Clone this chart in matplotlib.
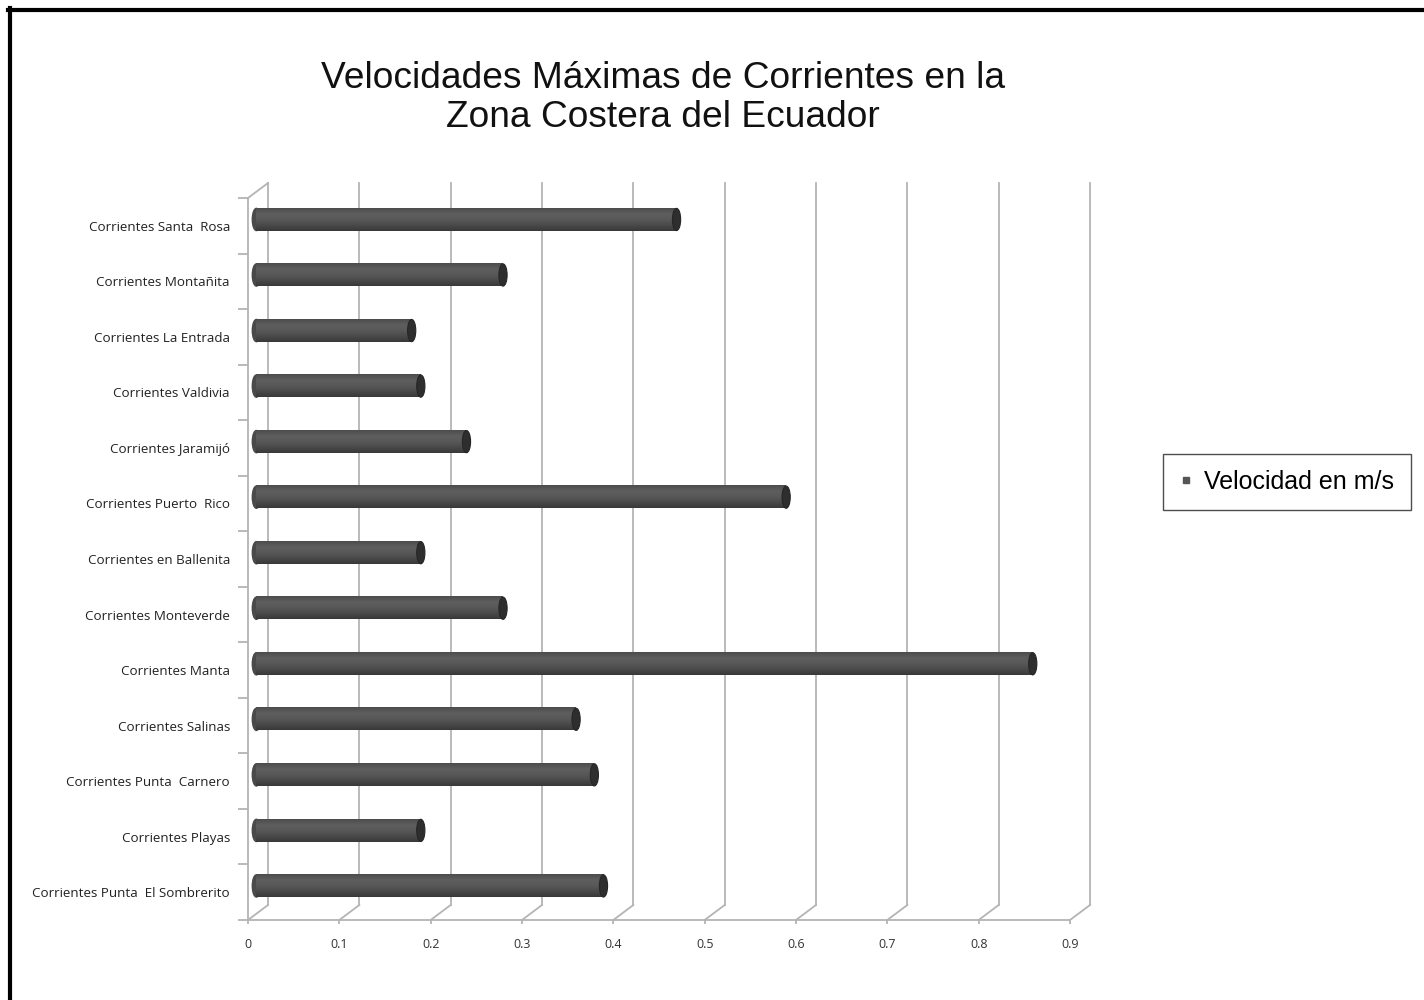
#------------------------------#
# IMPORT LIBRARIES
#------------------------------#

import numpy as np
import matplotlib
matplotlib.use('Agg')
import matplotlib.pyplot as plt
from matplotlib.patches import Ellipse
from matplotlib.lines import Line2D
from matplotlib.colors import LinearSegmentedColormap

#------------------------------#
# DATA
#------------------------------#

# bottom -> top, as drawn
stations = ['Corrientes Punta  El Sombrerito', 'Corrientes Playas',
            'Corrientes Punta  Carnero', 'Corrientes Salinas',
            'Corrientes Manta', 'Corrientes Monteverde',
            'Corrientes en Ballenita', 'Corrientes Puerto  Rico',
            'Corrientes Jaramijó', 'Corrientes Valdivia',
            'Corrientes La Entrada', 'Corrientes Montañita',
            'Corrientes Santa  Rosa']
velocity = [0.38, 0.18, 0.37, 0.35, 0.85, 0.27, 0.18, 0.58, 0.23, 0.18, 0.17, 0.27, 0.46]
xticks = [0, 0.1, 0.2, 0.3, 0.4, 0.5, 0.6, 0.7, 0.8, 0.9]
xtick_labels = ['0', '0.1', '0.2', '0.3', '0.4', '0.5', '0.6', '0.7', '0.8', '0.9']

title = 'Velocidades Máximas de Corrientes en la\nZona Costera del Ecuador'
legend_label = 'Velocidad en m/s'

#------------------------------#
# PLOT
#------------------------------#

W, H = 1424, 1000
fig = plt.figure(figsize=(W / 100, H / 100), dpi=100)
fig.patch.set_facecolor('white')

# front frame: x 0..0.9 -> px 248..1070, y -0.5..12.5 -> px 920..198
ax = fig.add_axes([248 / W, (H - 920) / H, 822 / W, 722 / H])
n = len(stations)
ax.set_xlim(0, 0.9)
ax.set_ylim(-0.5, n - 0.5)
for s in ax.spines.values():
    s.set_visible(False)

# depth offset of the 3D look (data units)
dx = 20 / 913.3
dy = 15 / 55.54
grid_c = '#b4b4b4'
lw = 1.3

# back wall gridlines + floor diagonals
for v in xticks:
    ax.plot([v + dx, v + dx], [-0.5 + dy, n - 0.5 + dy], color=grid_c, lw=lw, clip_on=False, zorder=1)
    ax.plot([v, v + dx], [-0.5, -0.5 + dy], color=grid_c, lw=lw, clip_on=False, zorder=1)
# front edges
ax.plot([0, 0.9], [-0.5, -0.5], color=grid_c, lw=lw, clip_on=False, zorder=1)
ax.plot([0, 0], [-0.5, n - 0.5], color=grid_c, lw=lw, clip_on=False, zorder=1)
ax.plot([0, dx], [n - 0.5, n - 0.5 + dy], color=grid_c, lw=lw, clip_on=False, zorder=1)

# cylinder bars
cyl = LinearSegmentedColormap.from_list('cyl', ['#383838', '#4a4a4a', '#585858', '#5e5e5e', '#4c4c4c'])
grad = np.linspace(0, 1, 64).reshape(-1, 1)
frac = 0.42
xo, yo = frac * dx, frac * dy
bh = 0.40
cap_w = 0.009
for i, v in enumerate(velocity):
    yc = i + yo
    ax.imshow(grad, extent=(xo, xo + v, yc - bh / 2, yc + bh / 2), origin='lower',
              cmap=cyl, aspect='auto', interpolation='bilinear', zorder=3)
    ax.add_patch(Ellipse((xo, yc), cap_w, bh, color='#4a4a4a', zorder=2.9))
    ax.add_patch(Ellipse((xo + v, yc), cap_w, bh, facecolor='#2e2e2e',
                         edgecolor='#262626', lw=0.8, zorder=4))

ax.set_xlim(0, 0.9)
ax.set_ylim(-0.5, n - 0.5)

# ticks
ax.set_xticks(xticks)
ax.set_xticklabels(xtick_labels, fontsize=9, family='Open Sans', color='#333333')
ax.tick_params(axis='x', length=3, width=lw, color=grid_c, pad=10)
ax.set_yticks(range(n))
ax.set_yticklabels(stations, fontsize=9.6, family='Open Sans', color='#222222')
ax.tick_params(axis='y', length=0, pad=13)
ax.set_yticks(np.arange(n + 1) - 0.5, minor=True)
ax.tick_params(axis='y', which='minor', length=7, width=lw, color=grid_c)

# title
fig.text(663 / W, 1 - 98 / H, title, ha='center', va='center', fontsize=26.7,
         family='Liberation Sans', color='#111111', linespacing=1.18)

# legend
h = [Line2D([], [], marker='s', ls='', color='#555555', markersize=5)]
leg = fig.legend(h, [legend_label], loc='center', bbox_to_anchor=(1287 / W, 1 - 482 / H),
                 prop={'family': 'Liberation Sans', 'size': 18},
                 frameon=True, fancybox=False, handlelength=0.5, handletextpad=0.5,
                 borderpad=0.65, borderaxespad=0)
leg.get_frame().set_edgecolor('#222222')
leg.get_frame().set_linewidth(1.0)

# outer border (top and left only, picture is cropped)
fig.add_artist(Line2D([8 / W, 1], [1 - 10 / H, 1 - 10 / H], color='black', lw=3, transform=fig.transFigure))
fig.add_artist(Line2D([10 / W, 10 / W], [0, 1 - 8 / H], color='black', lw=3, transform=fig.transFigure))

fig.savefig('out.png', dpi=100)
